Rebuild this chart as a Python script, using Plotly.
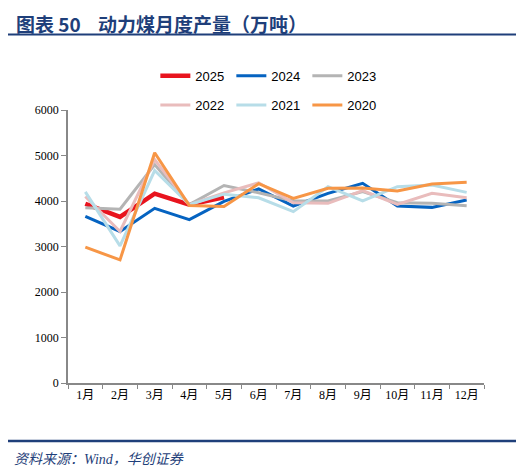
import plotly.graph_objects as go

months = ["1月", "2月", "3月", "4月", "5月", "6月", "7月", "8月", "9月", "10月", "11月", "12月"]

y2025 = [3940, 3650, 4160, 3920, 4080]
y2024 = [3660, 3330, 3840, 3590, 3990, 4265, 3890, 4168, 4388, 3890, 3860, 4022]
y2023 = [3850, 3820, 4800, 3920, 4340, 4180, 4000, 4000, 4205, 3963, 3949, 3898]
y2022 = [4100, 3330, 4910, 3920, 4180, 4400, 3963, 3949, 4230, 3927, 4168, 4073]
y2021 = [4200, 3015, 4670, 3920, 4150, 4070, 3766, 4315, 4000, 4315, 4350, 4190]
y2020 = [2985, 2705, 5060, 3900, 3880, 4380, 4059, 4278, 4288, 4220, 4374, 4410]

series = [
    ("2025", y2025, "#E8141E", 4.5, "legend"),
    ("2024", y2024, "#0563C1", 3, "legend"),
    ("2023", y2023, "#B4B4B4", 3, "legend"),
    ("2022", y2022, "#E9BCBC", 3, "legend2"),
    ("2021", y2021, "#B7DDE8", 3, "legend2"),
    ("2020", y2020, "#F79646", 3, "legend2"),
]

navy = "#1F3F7A"

fig = go.Figure()
for name, vals, color, width, leg in series:
    fig.add_trace(go.Scatter(
        x=months[:len(vals)], y=vals, name=name, mode="lines",
        line=dict(color=color, width=width), legend=leg
    ))

legend_style = dict(
    orientation="h", x=0.484, xanchor="center", yanchor="top",
    entrywidth=31, font=dict(family="Liberation Sans", size=13),
    traceorder="normal", bgcolor="rgba(0,0,0,0)",
)

# page body has an 8px margin, so the figure is a little smaller than the window
fig.update_layout(
    width=516, height=467,
    margin=dict(l=60, r=40, t=102, b=92),
    paper_bgcolor="white", plot_bgcolor="white",
    font=dict(family="Liberation Serif, Noto Sans CJK SC", size=12, color="black"),
    showlegend=True,
    legend=dict(y=1.18, **legend_style),
    legend2=dict(y=1.073, **legend_style),
)

fig.update_xaxes(
    type="category", categoryorder="array", categoryarray=months,
    range=[-0.5, 11.5], showline=True, linecolor="#888888", linewidth=1.5,
    ticks="outside", tickson="boundaries", ticklen=4, tickcolor="#888888",
    showgrid=False, zeroline=False, tickangle=0,
)
fig.update_yaxes(
    range=[0, 6000], dtick=1000, showline=True, linecolor="#888888", linewidth=1.5,
    ticks="outside", ticklen=5, tickcolor="#888888", showgrid=False, zeroline=False,
    tickformat="d",
)

# Title and rules
fig.add_annotation(
    text="<b>图表 50    动力煤月度产量（万吨）</b>", xref="paper", yref="paper",
    x=-0.13, y=1.317, xanchor="left", yanchor="middle", showarrow=False,
    font=dict(family="Noto Sans CJK SC", size=19, color=navy),
)
fig.add_shape(type="line", xref="paper", yref="paper",
              x0=-0.145, x1=1.083, y0=1.277, y1=1.277,
              line=dict(color=navy, width=2))
fig.add_shape(type="line", xref="paper", yref="paper",
              x0=-0.145, x1=1.083, y0=-0.2125, y1=-0.2125,
              line=dict(color=navy, width=2.5))
fig.add_annotation(
    text="<i>资料来源：Wind，华创证券</i>", xref="paper", yref="paper",
    x=-0.135, y=-0.282, xanchor="left", yanchor="middle", showarrow=False,
    font=dict(family="Liberation Serif, Noto Sans CJK SC", size=14, color=navy),
)

fig.write_html("out.html")
